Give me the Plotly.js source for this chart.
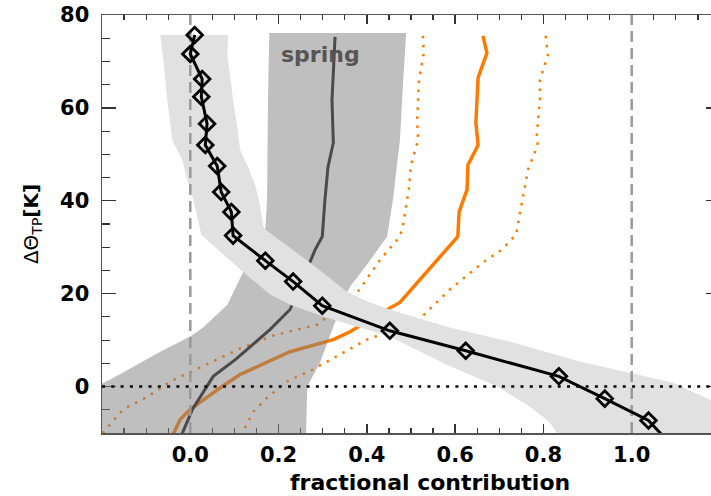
<!DOCTYPE html>
<html>
<head>
<meta charset="utf-8">
<script src="https://cdn.plot.ly/plotly-3.0.1.min.js"></script>
<style>
html,body{margin:0;padding:0;overflow:hidden;background:#fff;}
#chart{width:730px;height:496px;}
</style>
</head>
<body>
<div id="chart"></div>
<script>
// ---- Data ----
// Black line with diamonds (all-season fractional contribution)
const blackY = [75.7, 71.6, 66.2, 62.4, 56.6, 52.0, 47.5, 41.9, 37.6, 32.5, 27.1, 22.6, 17.4, 12.0, 7.7, 2.2, -2.6, -7.3, -12.6];
const blackX = [0.010, 0.000, 0.027, 0.025, 0.038, 0.034, 0.061, 0.070, 0.093, 0.097, 0.170, 0.233, 0.299, 0.452, 0.624, 0.835, 0.939, 1.038, 1.090];

// Light gray uncertainty band around black line
const bandBlackLeftY  = [75.7, 70.3, 61.7, 53.1, 48.8, 44.5, 40.2, 33.8, 32.7, 25.2, 19.8, 17.6, 15.1, 12.9, 10.8, 4.7, 0.0, -4.3, -7.7, -9.9, -11];
const bandBlackLeftX  = [-0.068, -0.061, -0.052, -0.041, -0.018, -0.007, 0.007, 0.023, 0.025, 0.113, 0.181, 0.226, 0.301, 0.378, 0.452, 0.581, 0.695, 0.769, 0.814, 0.830, 0.840];
const bandBlackRightY = [-11, -2.8, 0.9, 3.0, 5.4, 9.5, 12.9, 16.6, 18.1, 20.4, 26.7, 33.8, 34.8, 39.1, 43.4, 47.7, 51.0, 56.3, 61.7, 67.1, 71.4, 75.7];
const bandBlackRightX = [1.34, 1.176, 1.093, 0.995, 0.882, 0.731, 0.581, 0.452, 0.407, 0.355, 0.271, 0.170, 0.165, 0.158, 0.147, 0.129, 0.113, 0.106, 0.097, 0.090, 0.084, 0.086];

// Spring: dark gray median line and band
const springY = [75.3, 61.7, 52.5, 47.3, 40.2, 32.3, 29.5, 26.7, 16.6, 12.3, 5.8, 2.2, 0.0, -4.9, -10.5];
const springX = [0.328, 0.321, 0.324, 0.312, 0.305, 0.299, 0.283, 0.271, 0.226, 0.181, 0.102, 0.052, 0.038, 0.005, -0.020];
const springLeftY  = [76.1, 61.7, 40.2, 33.8, 24.7, 17.6, 12.7, 10.8, 7.5, 4.3, 1.5, 0.2, -11];
const springLeftX  = [0.179, 0.176, 0.174, 0.170, 0.120, 0.084, 0.029, 0.000, -0.068, -0.129, -0.181, -0.210, -0.210];
const springRightY = [-11, 0.0, 5.2, 12.9, 20.2, 21.5, 26.2, 31.6, 32.3, 40.2, 53.1, 65.4, 76.1];
const springRightX = [0.262, 0.265, 0.294, 0.324, 0.355, 0.362, 0.400, 0.441, 0.446, 0.459, 0.475, 0.482, 0.489];

// Orange median line and dotted bounds
const orangeY = [75.5, 71.8, 66.5, 56.8, 52.0, 47.7, 42.4, 37.6, 32.3, 18.1, 16.1, 11.8, 10.1, 7.5, 2.6, 0.0, -4.9, -7.1, -10.5];
const orangeX = [0.663, 0.672, 0.652, 0.647, 0.652, 0.629, 0.627, 0.609, 0.606, 0.475, 0.437, 0.362, 0.324, 0.226, 0.113, 0.072, 0.000, -0.023, -0.040];
const orangeLowY = [75.5, 71.8, 66.0, 57.4, 53.1, 47.7, 42.4, 34.8, 32.3, 27.3, 20.2, 13.3, 11.0, 8.2, 3.4, 1.1, -2.2, -4.9, -9.9, -10.5];
const orangeLowX = [0.527, 0.529, 0.518, 0.514, 0.516, 0.500, 0.495, 0.482, 0.475, 0.430, 0.378, 0.287, 0.188, 0.113, 0.007, -0.045, -0.097, -0.152, -0.197, -0.210];
const orangeHighY = [75.5, 71.4, 66.0, 61.7, 54.2, 52.0, 46.7, 39.1, 32.7, 29.5, 26.7, 20.9, 14.0, 10.1, 3.7, 1.1, -2.4, -5.4, -9.7, -10.5];
const orangeHighX = [0.805, 0.810, 0.792, 0.792, 0.785, 0.787, 0.765, 0.751, 0.738, 0.706, 0.663, 0.588, 0.514, 0.400, 0.278, 0.219, 0.174, 0.143, 0.120, 0.115];

// Reference lines
const refVertX = [0.0, 1.0];
const refHorizY = 0;

// Axis ticks
const xTickVals = [0.0, 0.2, 0.4, 0.6, 0.8, 1.0];
const xTickText = ['0.0', '0.2', '0.4', '0.6', '0.8', '1.0'];
const yTickVals = [0, 20, 40, 60, 80];
const yTickText = ['0', '20', '40', '60', '80'];
const xRange = [-0.2, 1.2];
const yRange = [-10, 80];

// ---- Build traces ----
const ORANGE = '#ff7a00';
function poly(lx, ly, rx, ry) {
  return { x: lx.concat(rx), y: ly.concat(ry) };
}
const traces = [];

traces.push({x: orangeX, y: orangeY, mode: 'lines', line: {color: ORANGE, width: 3.5}, hoverinfo: 'skip'});
traces.push({x: orangeLowX, y: orangeLowY, mode: 'lines', line: {color: ORANGE, width: 2.5, dash: '2.5px,6.5px'}, hoverinfo: 'skip'});
traces.push({x: orangeHighX, y: orangeHighY, mode: 'lines', line: {color: ORANGE, width: 2.5, dash: '2.5px,6.5px'}, hoverinfo: 'skip'});

const sp = poly(springLeftX, springLeftY, springRightX, springRightY);
traces.push({x: sp.x, y: sp.y, mode: 'lines', fill: 'toself', fillcolor: 'rgba(128,128,128,0.5)', line: {width: 0, color: 'rgba(0,0,0,0)'}, hoverinfo: 'skip'});
traces.push({x: springX, y: springY, mode: 'lines', line: {color: '#4a4a4a', width: 3}, hoverinfo: 'skip'});

const bb = poly(bandBlackLeftX, bandBlackLeftY, bandBlackRightX, bandBlackRightY);
traces.push({x: bb.x, y: bb.y, mode: 'lines', fill: 'toself', fillcolor: '#e1e1e1', line: {width: 0, color: 'rgba(0,0,0,0)'}, hoverinfo: 'skip'});

refVertX.forEach(v => {
  traces.push({x: [v, v], y: yRange, mode: 'lines', line: {color: '#999999', width: 2.5, dash: '11px,6px'}, hoverinfo: 'skip'});
});

traces.push({x: blackX, y: blackY, mode: 'lines+markers', line: {color: '#000', width: 3},
  marker: {symbol: 'diamond-open', size: 12, color: '#000', line: {width: 2.8, color: '#000'}}, cliponaxis: true, hoverinfo: 'skip'});

traces.push({x: xRange, y: [refHorizY, refHorizY], mode: 'lines', line: {color: '#000', width: 2.5, dash: '3px,6.3px'}, hoverinfo: 'skip'});

const tickFont = {family: 'DejaVu Sans', size: 21, color: '#000', weight: 'bold'};

const layout = {
  width: 730, height: 496,
  margin: {l: 102, r: 10, t: 15, b: 63},
  paper_bgcolor: '#fff', plot_bgcolor: '#fff',
  showlegend: false,
  xaxis: {
    range: xRange, tickmode: 'array', tickvals: xTickVals, ticktext: xTickText,
    ticks: 'inside', ticklen: 9, tickwidth: 1.3, tickcolor: '#333',
    minor: {tickmode: 'linear', tick0: 0, dtick: 0.05, ticks: 'inside', ticklen: 5, tickwidth: 1.2, tickcolor: '#333'},
    showline: true, linecolor: '#555', linewidth: 1.5, mirror: 'ticks',
    showgrid: false, zeroline: false, layer: 'below traces',
    tickfont: tickFont, ticklabelstandoff: 2
  },
  yaxis: {
    range: yRange, tickmode: 'array', tickvals: yTickVals, ticktext: yTickText,
    ticks: 'inside', ticklen: 14, tickwidth: 1.3, tickcolor: '#333',
    minor: {tickmode: 'linear', tick0: 0, dtick: 5, ticks: 'inside', ticklen: 8, tickwidth: 1.2, tickcolor: '#333'},
    showline: true, linecolor: '#555', linewidth: 1.5, mirror: 'ticks',
    showgrid: false, zeroline: false, layer: 'below traces',
    tickfont: tickFont, ticklabelstandoff: 7,
    title: {text: 'ΔΘ<sub>TP</sub><b>[K]</b>', font: {family: 'DejaVu Sans', size: 20, color: '#000'}, standoff: 16}
  },
  annotations: [
    {text: 'spring', xref: 'x', yref: 'y', x: 0.294, y: 71.4, showarrow: false,
     xanchor: 'center', yanchor: 'middle', font: {family: 'DejaVu Sans', size: 22, color: '#555', weight: 'bold'}},
    {text: 'fractional contribution', xref: 'paper', yref: 'paper', x: 0.531, y: 0, yshift: -49,
     showarrow: false, xanchor: 'center', yanchor: 'middle', font: {family: 'DejaVu Sans', size: 22, color: '#000', weight: 'bold'}}
  ]
};

Plotly.newPlot('chart', traces, layout, {staticPlot: true, displayModeBar: false});
</script>
</body>
</html>
